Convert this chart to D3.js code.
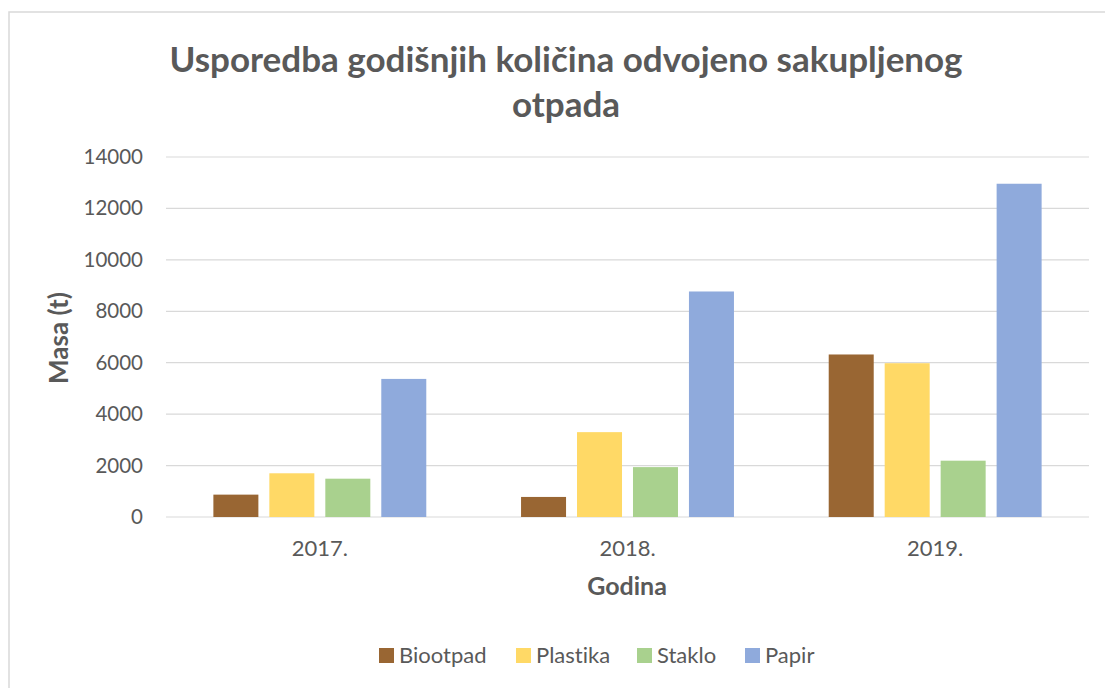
<!DOCTYPE html>
<html>
<head>
<meta charset="utf-8">
<script src="https://cdn.jsdelivr.net/npm/d3@7"></script>
<style>
  html, body { margin: 0; padding: 0; background: #fff; }
  svg { display: block; font-family: Lato, "Open Sans", sans-serif; font-variant-ligatures: none; }
</style>
</head>
<body>
<div id="chart"></div>
<script>
const years = ["2017.", "2018.", "2019."];
const seriesNames = ["Biootpad", "Plastika", "Staklo", "Papir"];
const seriesColors = ["#996633", "#ffd966", "#a9d18e", "#8faadc"];
const biootpad = [870, 780, 6320];
const plastika = [1700, 3300, 5980];
const staklo = [1490, 1940, 2190];
const papir = [5370, 8770, 12960];
const yTicks = [0, 2000, 4000, 6000, 8000, 10000, 12000, 14000];

const values = [biootpad, plastika, staklo, papir];
const rows = years.map((yr, i) => {
    const r = { year: yr };
    seriesNames.forEach((s, j) => { r[s] = values[j][i]; });
    return r;
});

const width = 1105, height = 688;
const plot = { left: 166, right: 1089, top: 157, bottom: 517 };
const textColor = "#595959";

const svg = d3.select("#chart").append("svg")
    .attr("width", width)
    .attr("height", height);

// outer frame (right and bottom edges run off the picture)
svg.append("rect")
    .attr("x", 9).attr("y", 12)
    .attr("width", 1110).attr("height", 700)
    .attr("fill", "#fff")
    .attr("stroke", "#d9d9d9")
    .attr("stroke-width", 1.5);

const y = d3.scaleLinear().domain([0, 14000]).range([plot.bottom, plot.top]);
const x0 = d3.scaleBand().domain(years).range([plot.left, plot.right])
    .paddingInner(0.308).paddingOuter(0.154);
const x1 = d3.scaleBand().domain(seriesNames).range([0, x0.bandwidth()])
    .paddingInner(0.196);
const color = d3.scaleOrdinal().domain(seriesNames).range(seriesColors);

// gridlines
svg.append("g")
    .selectAll("line")
    .data(yTicks)
    .join("line")
    .attr("x1", plot.left).attr("x2", plot.right)
    .attr("y1", d => y(d)).attr("y2", d => y(d))
    .attr("stroke", "#d9d9d9")
    .attr("stroke-width", 1.2);

// y axis labels
const yAxis = d3.axisLeft(y).tickValues(yTicks).tickFormat(d3.format("d"))
    .tickSize(0).tickPadding(0);
const yg = svg.append("g")
    .attr("transform", `translate(143,0)`)
    .call(yAxis);
yg.select(".domain").remove();
yg.selectAll("text")
    .attr("fill", textColor)
    .attr("font-size", 20.5)
    .attr("font-family", "Lato, sans-serif");

// bars
svg.append("g")
    .selectAll("g")
    .data(rows)
    .join("g")
    .attr("transform", d => `translate(${x0(d.year)},0)`)
    .selectAll("rect")
    .data(d => seriesNames.map(s => ({ key: s, value: d[s] })))
    .join("rect")
    .attr("x", d => x1(d.key))
    .attr("width", x1.bandwidth())
    .attr("y", d => y(d.value))
    .attr("height", d => y(0) - y(d.value))
    .attr("fill", d => color(d.key));

// x axis labels
const xAxis = d3.axisBottom(x0).tickSize(0).tickPadding(0);
const xg = svg.append("g")
    .attr("transform", `translate(0,${plot.bottom})`)
    .call(xAxis);
xg.select(".domain").remove();
xg.selectAll("text")
    .attr("dy", null)
    .attr("y", 39)
    .attr("fill", textColor)
    .attr("font-size", 22)
    .attr("font-family", "Lato, sans-serif");

// title
const title = svg.append("text")
    .attr("text-anchor", "middle")
    .attr("fill", textColor)
    .attr("font-size", 35)
    .attr("font-weight", 700);
title.append("tspan").attr("x", 566).attr("y", 72)
    .text("Usporedba godišnjih količina odvojeno sakupljenog");
title.append("tspan").attr("x", 566).attr("y", 117)
    .text("otpada");

// axis titles
svg.append("text")
    .attr("x", 627).attr("y", 595)
    .attr("text-anchor", "middle")
    .attr("fill", textColor)
    .attr("font-size", 25)
    .attr("font-weight", 700)
    .text("Godina");

svg.append("text")
    .attr("transform", "translate(68,338) rotate(-90)")
    .attr("text-anchor", "middle")
    .attr("fill", textColor)
    .attr("font-size", 26)
    .attr("font-weight", 700)
    .text("Masa (t)");

// legend
const legendX = [379, 516, 637, 745];
const legend = svg.append("g")
    .selectAll("g")
    .data(seriesNames)
    .join("g")
    .attr("transform", (d, i) => `translate(${legendX[i]},648)`);
legend.append("rect")
    .attr("width", 15).attr("height", 15)
    .attr("fill", d => color(d));
legend.append("text")
    .attr("x", 20).attr("y", 15)
    .attr("fill", textColor)
    .attr("font-size", 22)
    .text(d => d);
</script>
</body>
</html>
